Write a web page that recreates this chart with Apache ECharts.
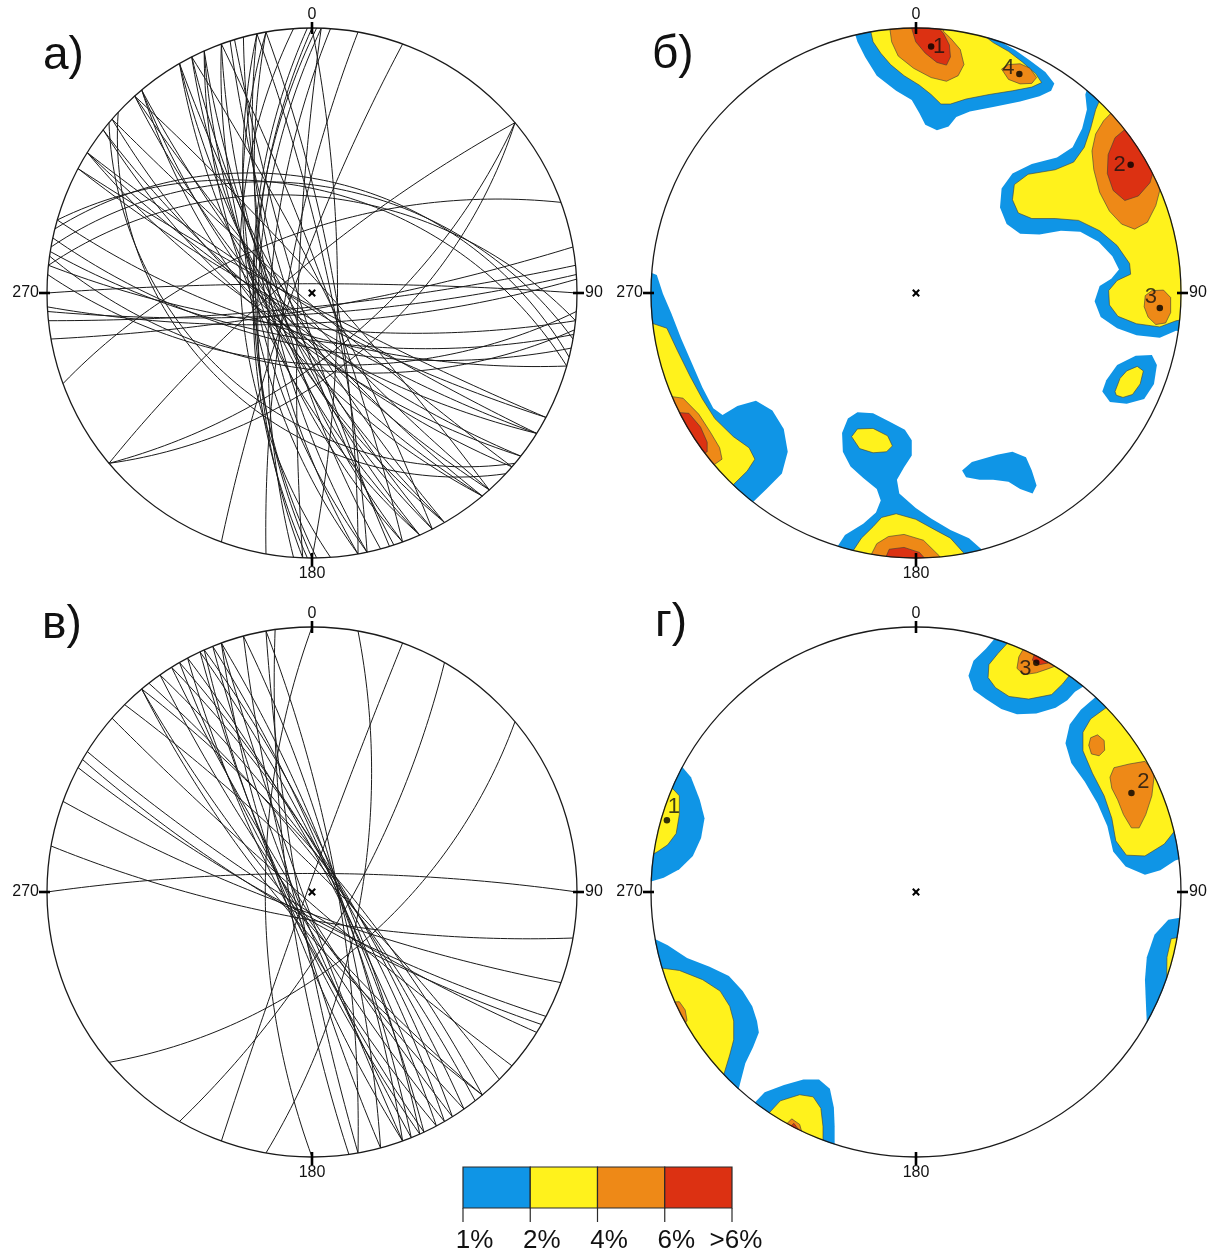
<!DOCTYPE html>
<html><head><meta charset="utf-8">
<script src="https://cdn.jsdelivr.net/npm/echarts/dist/echarts.min.js"></script>
<style>html,body{margin:0;padding:0;background:#fff}#c{width:1218px;height:1254px}</style>
</head><body><div id="c"></div>
<script>
// ---------- DATA ----------
// Great circles (planes) as [dip direction, dip] in degrees, panel а)
const planesA = [
 [270,66],[271,65],[269,65],[272,67],[266,60],[274,72],[90,79],[272,84],
 [280,79],[290,82],
 [320,79],[140,65],[140,58],
 [340,64],[170,83],
 [174,84],[176,81],[177,77],
 [184,60],[188,58],[0,86],
 [6,50],[10,46],[14,44],[16,48],
 [186,75],[189,70],[192,67],[196,72],
 [208,85],[208,80],[212,84],[212,78],[212,72],
 [218,75],[218,70],[221,86],[221,72],
 [228,82],[228,75],[48,85],
 [230,78],[230,72],[230,68],
 [240,80],[240,74],[240,70],
 [243,77],[243,72],[63,85],
 [246,75],[246,70],[246,66],
 [250,73],[250,68],[70,84],
 [252,80],[255,76],[253,84],
 [258,72],[258,66],[78,82],
 [260,70],[260,64],[80,80],
 [220,42],[223,39]
];
// panel в)
const planesV = [
 [270,70],[100,69],[290,88],[120,74],[140,60],
 [0,82],[190,78],[200,81],
 [208,80],[210,79],[212,82],
 [221,86],[45,82],
 [50,78],[52,80],[230,80],[230,77],
 [55,79],[235,82],
 [58,78],[60,79],[62,81],[240,81],[242,78],[238,84],
 [65,80],[245,80],
 [66,78],[68,80],[248,83],[246,79],[250,86],
 [250,78],[70,79],
 [75,79],[255,82],
 [80,79],[260,84],[262,80]
];
// Pole density contours (net coordinates, x = east, y = north), panel б)
const contB_1 = [
 [[-0.252,1.050],[-0.221,0.948],[-0.192,0.891],[-0.148,0.820],[-0.075,0.763],[-0.016,0.728],[0.013,0.678],[0.035,0.635],[0.079,0.614],[0.123,0.628],[0.152,0.664],[0.203,0.685],[0.291,0.702],[0.393,0.723],[0.466,0.742],[0.510,0.763],[0.522,0.791],[0.488,0.834],[0.430,0.877],[0.371,0.919],[0.320,0.948],[0.344,1.023],[0,1.08]],
 [[0.670,0.848],[0.639,0.749],[0.645,0.692],[0.627,0.621],[0.591,0.550],[0.532,0.511],[0.437,0.487],[0.364,0.451],[0.323,0.394],[0.317,0.323],[0.342,0.260],[0.393,0.224],[0.466,0.221],[0.547,0.235],[0.620,0.231],[0.689,0.193],[0.741,0.139],[0.766,0.089],[0.737,0.054],[0.693,0.026],[0.674,-0.031],[0.697,-0.091],[0.759,-0.133],[0.832,-0.159],[0.920,-0.169],[0.981,-0.142],[1.069,-0.154],[1.064,0.188],[0.935,0.54],[0.764,0.764]],
 [[0.703,-0.372],[0.718,-0.329],[0.759,-0.272],[0.829,-0.237],[0.890,-0.234],[0.909,-0.272],[0.898,-0.343],[0.861,-0.400],[0.795,-0.418],[0.732,-0.411]],
 [[0.174,-0.670],[0.211,-0.638],[0.306,-0.610],[0.364,-0.599],[0.415,-0.620],[0.437,-0.670],[0.455,-0.726],[0.440,-0.757],[0.393,-0.740],[0.349,-0.712],[0.291,-0.705],[0.240,-0.705],[0.189,-0.695]],
 [[-0.341,-1.025],[-0.268,-0.913],[-0.199,-0.871],[-0.151,-0.828],[-0.133,-0.783],[-0.148,-0.740],[-0.199,-0.698],[-0.247,-0.655],[-0.276,-0.599],[-0.279,-0.528],[-0.257,-0.474],[-0.221,-0.450],[-0.162,-0.454],[-0.101,-0.485],[-0.042,-0.516],[-0.016,-0.556],[-0.016,-0.613],[-0.045,-0.658],[-0.072,-0.705],[-0.063,-0.757],[-0.001,-0.811],[0.057,-0.851],[0.130,-0.894],[0.200,-0.925],[0.247,-0.967],[0.267,-1.047],[0,-1.08]],
 [[-1.075,0.107],[-0.978,0.068],[-0.955,-0.003],[-0.923,-0.077],[-0.886,-0.173],[-0.849,-0.258],[-0.806,-0.357],[-0.765,-0.435],[-0.730,-0.460],[-0.674,-0.426],[-0.604,-0.407],[-0.542,-0.443],[-0.499,-0.513],[-0.484,-0.599],[-0.506,-0.681],[-0.564,-0.740],[-0.615,-0.789],[-0.663,-0.852],[-0.935,-0.54],[-1.064,-0.188]]
];
const contB_2 = [
 [[-0.188,1.064],[-0.162,0.948],[-0.133,0.905],[-0.096,0.862],[-0.045,0.820],[0.013,0.784],[0.057,0.749],[0.094,0.713],[0.130,0.713],[0.189,0.732],[0.276,0.749],[0.364,0.763],[0.437,0.777],[0.474,0.794],[0.452,0.827],[0.401,0.872],[0.349,0.912],[0.291,0.945],[0.269,0.962],[0.29,1.04],[0,1.08]],
 [[0.724,0.801],[0.678,0.692],[0.659,0.621],[0.635,0.550],[0.595,0.494],[0.525,0.465],[0.423,0.448],[0.371,0.409],[0.364,0.352],[0.386,0.302],[0.437,0.281],[0.525,0.281],[0.613,0.274],[0.693,0.235],[0.759,0.179],[0.806,0.111],[0.810,0.071],[0.759,0.047],[0.727,0.009],[0.730,-0.045],[0.762,-0.088],[0.832,-0.116],[0.920,-0.128],[0.981,-0.105],[1.077,-0.087],[1.064,0.188],[0.935,0.54],[0.78,0.76]],
 [[0.751,-0.372],[0.770,-0.322],[0.795,-0.294],[0.835,-0.277],[0.858,-0.294],[0.846,-0.343],[0.817,-0.383],[0.781,-0.394],[0.756,-0.386]],
 [[-0.243,-0.542],[-0.221,-0.513],[-0.162,-0.511],[-0.107,-0.539],[-0.089,-0.577],[-0.111,-0.599],[-0.162,-0.603],[-0.213,-0.587]],
 [[-0.283,-1.042],[-0.206,-0.925],[-0.162,-0.882],[-0.130,-0.847],[-0.075,-0.833],[-0.001,-0.854],[0.072,-0.894],[0.130,-0.925],[0.181,-0.982],[0.195,-1.062],[0,-1.08]],
 [[-1.077,-0.087],[-0.940,-0.133],[-0.901,-0.216],[-0.852,-0.315],[-0.806,-0.400],[-0.759,-0.474],[-0.689,-0.542],[-0.630,-0.584],[-0.608,-0.627],[-0.637,-0.672],[-0.689,-0.723],[-0.745,-0.782],[-0.979,-0.456]]
];
const contB_4 = [
 [[-0.109,1.074],[-0.092,0.948],[-0.067,0.894],[-0.009,0.848],[0.057,0.813],[0.115,0.799],[0.159,0.820],[0.181,0.862],[0.167,0.919],[0.130,0.962],[0.104,0.987],[0.113,1.074]],
 [[0.323,0.845],[0.349,0.862],[0.393,0.865],[0.430,0.848],[0.455,0.813],[0.437,0.791],[0.393,0.789],[0.349,0.806]],
 [[0.79,0.734],[0.708,0.650],[0.678,0.600],[0.664,0.536],[0.671,0.465],[0.693,0.380],[0.730,0.309],[0.776,0.260],[0.825,0.241],[0.873,0.267],[0.905,0.330],[0.920,0.387],[0.996,0.419],[0.906,0.588]],
 [[0.865,-0.010],[0.890,0.009],[0.934,0.011],[0.961,-0.017],[0.961,-0.074],[0.942,-0.113],[0.905,-0.119],[0.876,-0.091],[0.861,-0.052]],
 [[-0.206,-1.06],[-0.148,-0.946],[-0.104,-0.919],[-0.045,-0.911],[0.028,-0.933],[0.089,-0.993],[0.096,-1.076]],
 [[-1.012,-0.378],[-0.879,-0.397],[-0.820,-0.457],[-0.776,-0.525],[-0.741,-0.584],[-0.732,-0.627],[-0.762,-0.648],[-0.822,-0.699]]
];
const contB_6 = [
 [[-0.041,1.08],[-0.001,0.948],[0.035,0.905],[0.079,0.870],[0.115,0.860],[0.130,0.891],[0.126,0.936],[0.104,0.979],[0.089,0.996],[0.096,1.076]],
 [[0.849,0.668],[0.751,0.586],[0.725,0.522],[0.722,0.451],[0.744,0.387],[0.788,0.349],[0.839,0.366],[0.883,0.416],[0.893,0.451],[0.964,0.487]],
 [[-0.145,-1.07],[-0.101,-0.967],[-0.045,-0.960],[0.013,-0.979],[0.031,-0.999],[0.034,-1.08]],
 [[-0.984,-0.445],[-0.857,-0.454],[-0.813,-0.506],[-0.788,-0.563],[-0.788,-0.599],[-0.798,-0.604],[-0.862,-0.651]]
];
// panel г)
const contG_1 = [
 [[0.352,1.021],[0.264,0.918],[0.217,0.873],[0.198,0.816],[0.217,0.762],[0.264,0.728],[0.322,0.691],[0.381,0.671],[0.454,0.674],[0.527,0.695],[0.571,0.724],[0.600,0.756],[0.633,0.776],[0.682,0.837],[0.524,0.945]],
 [[0.738,0.788],[0.622,0.688],[0.580,0.632],[0.564,0.561],[0.586,0.487],[0.637,0.416],[0.685,0.334],[0.722,0.249],[0.744,0.153],[0.791,0.096],[0.864,0.065],[0.922,0.082],[0.978,0.119],[1.07,0.146],[0.979,0.456],[0.827,0.694]],
 [[1.077,-0.083],[0.952,-0.105],[0.900,-0.161],[0.871,-0.246],[0.864,-0.331],[0.868,-0.431],[0.871,-0.492],[0.94,-0.532],[1.043,-0.28]],
 [[-0.937,0.537],[-0.849,0.433],[-0.816,0.348],[-0.798,0.278],[-0.811,0.204],[-0.842,0.136],[-0.893,0.086],[-0.952,0.054],[-1.0,0.040],[-1.079,0.043],[-1.043,0.28]],
 [[-1.072,-0.135],[-0.937,-0.201],[-0.864,-0.249],[-0.779,-0.282],[-0.706,-0.317],[-0.654,-0.374],[-0.618,-0.431],[-0.600,-0.487],[-0.593,-0.530],[-0.615,-0.586],[-0.644,-0.646],[-0.669,-0.742],[-0.723,-0.803],[-0.935,-0.54]],
 [[-0.663,-0.852],[-0.571,-0.756],[-0.498,-0.728],[-0.425,-0.708],[-0.366,-0.708],[-0.325,-0.742],[-0.310,-0.813],[-0.307,-0.884],[-0.307,-0.952],[-0.332,-1.027],[-0.507,-0.954]]
];
const contG_2 = [
 [[0.403,1.002],[0.310,0.901],[0.275,0.858],[0.272,0.809],[0.300,0.771],[0.351,0.738],[0.425,0.728],[0.512,0.745],[0.553,0.785],[0.578,0.816],[0.624,0.882]],
 [[0.783,0.743],[0.659,0.653],[0.630,0.603],[0.630,0.533],[0.666,0.448],[0.710,0.363],[0.739,0.278],[0.754,0.193],[0.794,0.139],[0.864,0.136],[0.937,0.181],[0.974,0.228],[1.051,0.246],[0.935,0.54]],
 [[1.068,-0.16],[0.963,-0.176],[0.947,-0.246],[0.946,-0.324],[1.022,-0.35]],
 [[-0.979,0.456],[-0.893,0.363],[-0.893,0.292],[-0.905,0.221],[-0.937,0.178],[-0.974,0.153],[-0.991,0.143],[-1.069,0.154]],
 [[-1.044,-0.276],[-0.893,-0.296],[-0.805,-0.331],[-0.739,-0.374],[-0.703,-0.431],[-0.688,-0.487],[-0.688,-0.558],[-0.703,-0.615],[-0.725,-0.688],[-0.783,-0.743],[-0.935,-0.54]],
 [[-0.608,-0.892],[-0.512,-0.788],[-0.439,-0.765],[-0.388,-0.773],[-0.359,-0.816],[-0.351,-0.884],[-0.351,-0.936],[-0.38,-1.011]]
];
const contG_4 = [
 [[0.443,0.985],[0.388,0.887],[0.381,0.844],[0.407,0.820],[0.454,0.827],[0.495,0.841],[0.527,0.853],[0.568,0.919]],
 [[0.652,0.554],[0.659,0.582],[0.685,0.593],[0.710,0.572],[0.712,0.535],[0.691,0.514],[0.662,0.521]],
 [[0.732,0.433],[0.747,0.469],[0.805,0.483],[0.864,0.493],[0.900,0.450],[0.890,0.363],[0.867,0.292],[0.842,0.242],[0.813,0.242],[0.783,0.292],[0.761,0.348],[0.739,0.391]],
 [[-0.996,-0.419],[-0.893,-0.414],[-0.871,-0.445],[-0.864,-0.484],[-0.870,-0.494],[-0.939,-0.533]],
 [[-0.545,-0.932],[-0.469,-0.856],[-0.439,-0.877],[-0.432,-0.902],[-0.467,-0.974]]
];
const contG_6 = [
 [[0.473,0.971],[0.439,0.875],[0.466,0.858],[0.498,0.864],[0.54,0.935]],
 [[-0.53,-0.94],[-0.461,-0.873],[-0.444,-0.895],[-0.48,-0.967]]
];
// Density maxima
const peaksB = [[0.057,0.930],[0.390,0.826],[0.810,0.484],[0.920,-0.057]];
const peaksB_names = ['1','4','2','3'];
const peaksG = [[0.454,0.865],[0.813,0.374],[-0.940,0.271]];
const peaksG_names = ['3','2','1'];
// Direction labels and legend
const dirLabels = ['0','90','180','270'];
const panelLetters = ['а)','б)','в)','г)'];
const legendColors = ['#0f95e6','#fff21c','#ee8917','#dc3112'];
const legendLabels = ['1%','2%','4%','6%','>6%'];

// ---------- LAYOUT / STYLE ----------
const FONT = '"Liberation Sans", Arial, Helvetica, sans-serif';
const R = 265;
const panels = [{cx:312,cy:293},{cx:916,cy:293},{cx:312,cy:892},{cx:916,cy:892}];
const letterPos = [[43,71,46],[652,70,46],[42,640,46],[655,638,46]];
const peakOffB = [[8,0],[-11,-6],[-11,0],[-9,-11]];
const peakOffG = [[-11,6],[12,-11],[7,-13]];

const rad = Math.PI/180;
// lower-hemisphere stereographic projection of a plane's great circle
function greatCircle(dd, dip){
  const s=(dd-90)*rad, d=dd*rad, k=dip*rad;
  const S=[Math.sin(s),Math.cos(s),0];
  const D=[Math.sin(d)*Math.cos(k),Math.cos(d)*Math.cos(k),Math.sin(k)];
  const pts=[];
  for(let t=0;t<=180;t+=2){
    const c=Math.cos(t*rad), sn=Math.sin(t*rad);
    const e=c*S[0]+sn*D[0], n=c*S[1]+sn*D[1], z=c*S[2]+sn*D[2];
    pts.push([e/(1+z), n/(1+z)]);
  }
  return pts;
}

const series=[];
function circleSeries(i){ // primitive, ticks, labels, centre cross
  series.push({type:'custom', xAxisIndex:i, yAxisIndex:i, silent:true, z:10, animation:false, data:[[0,0]],
    renderItem:(params, api)=>{
      const c=api.coord([0,0]); const r=api.size([1,1])[0];
      const x=c[0], y=c[1];
      const tk={stroke:'#000', lineWidth:2.6};
      const tf={fill:'#111', font:'16px '+FONT};
      const q=3.2;
      return {type:'group', children:[
        {type:'circle', shape:{cx:x,cy:y,r:r}, style:{fill:'none', stroke:'#1a1a1a', lineWidth:1.3}},
        {type:'line', shape:{x1:x,y1:y-r-6,x2:x,y2:y-r+6}, style:tk},
        {type:'line', shape:{x1:x,y1:y+r-5,x2:x,y2:y+r+8}, style:tk},
        {type:'line', shape:{x1:x-r-8,y1:y,x2:x-r+3,y2:y}, style:tk},
        {type:'line', shape:{x1:x+r-4,y1:y,x2:x+r+7,y2:y}, style:tk},
        {type:'text', style:Object.assign({text:dirLabels[0], x:x, y:y-r-13, align:'center', verticalAlign:'middle'},tf)},
        {type:'text', style:Object.assign({text:dirLabels[1], x:x+r+8, y:y, align:'left', verticalAlign:'middle'},tf)},
        {type:'text', style:Object.assign({text:dirLabels[2], x:x, y:y+r+16, align:'center', verticalAlign:'middle'},tf)},
        {type:'text', style:Object.assign({text:dirLabels[3], x:x-r-8, y:y, align:'right', verticalAlign:'middle'},tf)},
        {type:'line', shape:{x1:x-q,y1:y-q,x2:x+q,y2:y+q}, style:{stroke:'#000',lineWidth:2}},
        {type:'line', shape:{x1:x-q,y1:y+q,x2:x+q,y2:y-q}, style:{stroke:'#000',lineWidth:2}}
      ]};
    }});
}
function planeSeries(i, planes){
  planes.forEach(p=>{
    series.push({type:'line', xAxisIndex:i, yAxisIndex:i, data:greatCircle(p[0],p[1]), symbol:'none', showSymbol:false,
      silent:true, animation:false, z:2, lineStyle:{color:'#1a1a1a', width:1}});
  });
}
function contourSeries(i, polys, color, stroked){
  series.push({type:'custom', xAxisIndex:i, yAxisIndex:i, silent:true, animation:false, z:1,
    data: polys.map(()=>[0,0]),
    renderItem:(params, api)=>{
      const poly=polys[params.dataIndex];
      return {type:'polygon', shape:{points:poly.map(pt=>api.coord(pt))},
        style:{fill:color, stroke: stroked ? '#3a3a3a' : null, lineWidth: stroked ? 0.6 : 0}};
    }});
}
function maskSeries(i){
  series.push({type:'custom', xAxisIndex:i, yAxisIndex:i, silent:true, animation:false, z:5, data:[[0,0]],
    renderItem:(params, api)=>{
      const c=api.coord([0,0]); const r=api.size([1,1])[0];
      return {type:'circle', shape:{cx:c[0],cy:c[1],r:r+18}, style:{fill:'none', stroke:'#fff', lineWidth:35}};
    }});
}
function peakSeries(i, pts, names, offs){
  series.push({type:'scatter', xAxisIndex:i, yAxisIndex:i, silent:true, animation:false, z:12,
    symbol:'circle', symbolSize:6.5, itemStyle:{color:'#000'},
    data: pts.map((p,k)=>({value:p, name:names[k], label:{offset:offs[k]}})),
    label:{show:true, position:'inside', formatter:(p)=>p.name, color:'#111', fontSize:22, fontFamily:FONT}
  });
}

planeSeries(0, planesA);
planeSeries(2, planesV);
[[1,contB_1,contB_2,contB_4,contB_6],[3,contG_1,contG_2,contG_4,contG_6]].forEach(([i,c1,c2,c4,c6])=>{
  contourSeries(i,c1,legendColors[0],false);
  contourSeries(i,c2,legendColors[1],true);
  contourSeries(i,c4,legendColors[2],true);
  contourSeries(i,c6,legendColors[3],true);
  maskSeries(i);
});
peakSeries(1, peaksB, peaksB_names, peakOffB);
peakSeries(3, peaksG, peaksG_names, peakOffG);
for(let i=0;i<4;i++) circleSeries(i);

// legend + letters as graphics
const graphic=[];
panelLetters.forEach((t,k)=>{
  const [x,y,fs]=letterPos[k];
  graphic.push({type:'text', z:20, style:{text:t, x:x, y:y-0.31*fs, align:'left', verticalAlign:'middle', font:fs+'px '+FONT, fill:'#111'}});
});
const LX=463, LY=1167, LW=67.25, LH=41;
legendColors.forEach((c,k)=>{
  graphic.push({type:'rect', z:20, shape:{x:LX+k*LW, y:LY, width:LW, height:LH}, style:{fill:c, stroke:'#2a2a2a', lineWidth:1.2}});
});
legendLabels.forEach((t,k)=>{
  const bx=LX+k*LW;
  graphic.push({type:'line', z:20, shape:{x1:bx,y1:LY+LH,x2:bx,y2:LY+LH+14}, style:{stroke:'#2a2a2a', lineWidth:1.2}});
  const pre = t.startsWith('>') ? 7.6 : 0;
  graphic.push({type:'text', z:20, style:{text:t, x:bx+11.6-pre, y:1241, align:'center', verticalAlign:'middle', font:'26px '+FONT, fill:'#111'}});
});

const chart=echarts.init(document.getElementById('c'), null, {renderer:'canvas'});
chart.setOption({
  animation:false,
  backgroundColor:'#fff',
  grid: panels.map(p=>({left:p.cx-R, top:p.cy-R, width:2*R, height:2*R})),
  xAxis: panels.map((p,i)=>({gridIndex:i, type:'value', min:-1, max:1, show:false})),
  yAxis: panels.map((p,i)=>({gridIndex:i, type:'value', min:-1, max:1, show:false})),
  series: series,
  graphic: graphic
});
</script></body></html>
